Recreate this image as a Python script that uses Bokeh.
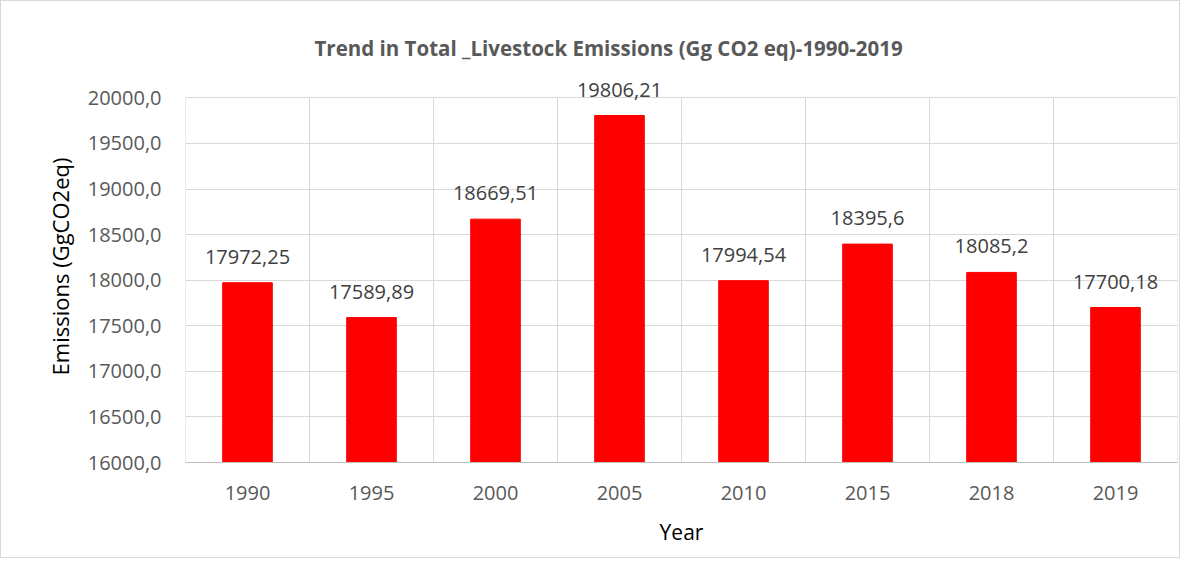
from bokeh.plotting import figure
from bokeh.models import Range1d, FixedTicker, ColumnDataSource, Title, LabelSet
from bokeh.core.properties import value
from bokeh.embed import file_html
from bokeh.resources import INLINE

years = ["1990", "1995", "2000", "2005", "2010", "2015", "2018", "2019"]
emissions = [17972.25, 17589.89, 18669.51, 19806.21, 17994.54, 18395.6, 18085.2, 17700.18]
value_labels = ["17972,25", "17589,89", "18669,51", "19806,21", "17994,54", "18395,6", "18085,2", "17700,18"]
y_ticks = [16000, 16500, 17000, 17500, 18000, 18500, 19000, 19500, 20000]
y_tick_labels = ["16000,0", "16500,0", "17000,0", "17500,0", "18000,0", "18500,0", "19000,0", "19500,0", "20000,0"]

FONT = "Open Sans"
n = len(years)
x_pos = [i + 0.5 for i in range(n)]
src = ColumnDataSource(dict(x=x_pos, top=emissions, lab=value_labels))

y_min, y_max = y_ticks[0], y_ticks[-1]

p = figure(width=1180, height=558, output_backend="svg", toolbar_location=None,
           x_range=Range1d(0, n), y_range=Range1d(y_min, 20300),
           min_border_left=184, min_border_right=4, min_border_top=69, min_border_bottom=97)
p.styles = {"border": "1px solid #d9d9d9"}
p.outline_line_color = None
p.background_fill_color = "white"
p.border_fill_color = "white"

# grid lines
p.xgrid.visible = False
bounds = list(range(n + 1))
p.segment(x0=bounds, y0=[y_min] * len(bounds), x1=bounds, y1=[y_max] * len(bounds),
          line_color="#d9d9d9", line_width=1)
p.ygrid.ticker = FixedTicker(ticks=y_ticks)
p.ygrid.grid_line_color = "#d9d9d9"

p.vbar(x="x", top="top", bottom=y_min, width=0.4, color="#ff0000", source=src)
labels = LabelSet(x="x", y="top", text="lab", source=src, text_align="center", text_baseline="alphabetic",
                  y_offset=19, text_font=value(FONT), text_font_size=value("20px"), text_color="#404040")
p.add_layout(labels)

# x axis
xa = p.xaxis[0]
xa.ticker = FixedTicker(ticks=x_pos)
xa.major_label_overrides = {x: y for x, y in zip(x_pos, years)}
xa.axis_line_color = "#bfbfbf"
xa.major_tick_line_color = None
xa.minor_tick_line_color = None
xa.major_tick_in = 0
xa.major_tick_out = 0
xa.major_label_standoff = 23
xa.major_label_text_font = FONT
xa.major_label_text_font_size = "20px"
xa.major_label_text_color = "#595959"
xa.axis_label = "Year"
xa.axis_label_text_font = FONT
xa.axis_label_text_font_size = "21px"
xa.axis_label_text_font_style = "normal"
xa.axis_label_text_color = "#000000"
xa.axis_label_standoff = 15

# y axis
ya = p.yaxis[0]
ya.ticker = FixedTicker(ticks=y_ticks)
ya.major_label_overrides = {t: s for t, s in zip(y_ticks, y_tick_labels)}
ya.axis_line_color = None
ya.major_tick_line_color = None
ya.minor_tick_line_color = None
ya.major_tick_in = 0
ya.major_tick_out = 0
ya.major_label_standoff = 24
ya.major_label_text_font = FONT
ya.major_label_text_font_size = "20px"
ya.major_label_text_color = "#595959"
ya.axis_label = "Emissions (GgCO2eq)"
ya.axis_label_text_font = FONT
ya.axis_label_text_font_size = "22px"
ya.axis_label_text_font_style = "normal"
ya.axis_label_text_color = "#000000"
ya.axis_label_standoff = 10

p.title = Title(text="Trend in Total _Livestock Emissions (Gg CO2 eq)-1990-2019",
                align="left", offset=129, text_font=FONT, text_font_size="20.5px",
                text_font_style="bold", text_color="#595959", standoff=18)

open("out.html", "w").write(file_html(p, INLINE))
